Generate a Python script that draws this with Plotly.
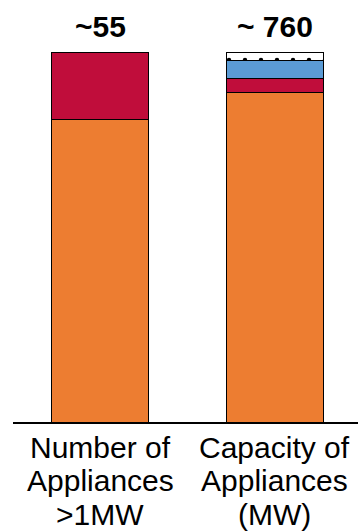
import plotly.graph_objects as go

# Two stacked columns: appliance count (>1MW) and installed capacity (MW)
categories = ["Number of Appliances >1MW", "Capacity of Appliances (MW)"]
category_lines = [["Number of", "Appliances", ">1MW"],
                  ["Capacity of", "Appliances", "(MW)"]]

# Segment values per column (bottom to top)
orange_vals = [45, 677]
red_vals = [10, 29]
blue_vals = [0, 37]
dotted_vals = [0, 17]

total_labels = ["~55", "~ 760"]

series = [
    ("orange", orange_vals, "#ED7D31", None),
    ("red", red_vals, "#C00D3B", None),
    ("blue", blue_vals, "#5B9BD5", None),
    ("dotted", dotted_vals, "#FFFFFF",
     dict(shape=".", fgcolor="#000000", fgopacity=1, bgcolor="#FFFFFF",
          size=16, solidity=0.06)),
]

totals = [sum(s[1][i] for s in series) for i in range(len(categories))]

fig = go.Figure()
for name, vals, color, pattern in series:
    shares = [v / t * 100 for v, t in zip(vals, totals)]
    marker = dict(color=color, line=dict(color="#000000", width=1))
    if pattern:
        marker["pattern"] = pattern
    fig.add_trace(go.Bar(
        x=[0, 1], y=shares, name=name, width=0.556,
        marker=marker, hoverinfo="skip",
    ))

FONT = "Liberation Sans, Arial, sans-serif"
SIZE = 30
DESCENT = 0.212 * SIZE
TOP, BOTTOM = 52, 422
H = BOTTOM - TOP
FIG_H = 532


def paper_y(px):
    return (BOTTOM - px) / H


def text_at_baseline(x, baseline_px, text):
    # anchor the text box bottom just below the baseline, kept inside the page
    box_bottom = min(baseline_px + DESCENT, FIG_H - 0.5)
    return dict(
        x=x, xref="x", y=paper_y(box_bottom), yref="paper", text=text,
        showarrow=False, xanchor="center", yanchor="bottom", borderpad=0,
        font=dict(family=FONT, size=SIZE, color="#000000"),
    )


annotations = []
for i, lab in enumerate(total_labels):
    annotations.append(text_at_baseline(i, 37.5, f"<b>{lab}</b>"))

line_baselines = [458.3, 491.7, 527.7]
for i, lines in enumerate(category_lines):
    for j, txt in enumerate(lines):
        annotations.append(text_at_baseline(i, line_baselines[j], txt))

fig.update_layout(
    barmode="stack",
    width=358, height=FIG_H,
    margin=dict(l=13, r=0, t=TOP, b=FIG_H - BOTTOM, pad=0),
    paper_bgcolor="#FFFFFF", plot_bgcolor="#FFFFFF",
    showlegend=False,
    annotations=annotations,
    xaxis=dict(range=[-0.5, 1.477], showticklabels=False, ticks="",
               showgrid=False, zeroline=False, showline=True,
               linecolor="#000000", linewidth=2, fixedrange=True),
    yaxis=dict(range=[0, 100], visible=False, showgrid=False,
               zeroline=False, fixedrange=True),
)

fig.write_html("out.html")
